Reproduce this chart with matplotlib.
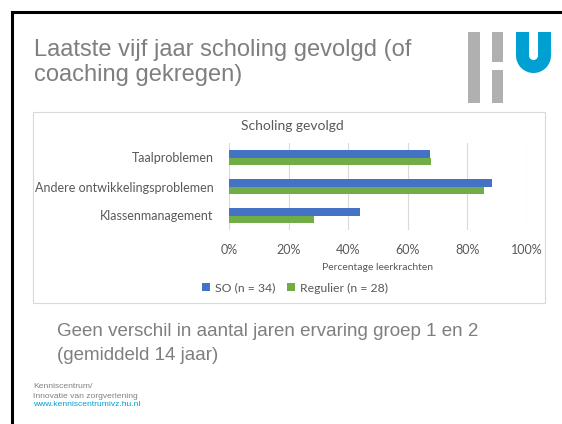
import numpy as np
import matplotlib.pyplot as plt
from matplotlib.patches import Rectangle, Wedge

categories = ['Taalproblemen', 'Andere ontwikkelingsproblemen', 'Klassenmanagement']
so_values = [67.6, 88.2, 44.1]
regulier_values = [67.9, 85.7, 28.6]
series_labels = ['SO (n = 34)', 'Regulier (n = 28)']
x_ticks = [0, 20, 40, 60, 80, 100]

W, H = 562, 424
blue = '#4472C4'
green = '#70AD47'
chart_text = '#595959'
slide_text = '#7f7f7f'
hu_blue = '#00A0D2'
hu_grey = '#B0B0B0'
chart_font = ['Lato', 'DejaVu Sans']
slide_font = ['Liberation Sans', 'DejaVu Sans']


def fx(px):
    return px / W


def fy(py):
    return 1 - py / H


fig = plt.figure(figsize=(W / 100, H / 100), dpi=100)

# background axes in pixel coordinates for slide decorations
bg = fig.add_axes([0, 0, 1, 1], zorder=-1)
bg.set_xlim(0, W)
bg.set_ylim(H, 0)
bg.axis('off')

# slide border (top and left)
bg.plot([11.5, 11.5], [H, 11.5], color='black', lw=2.2, solid_capstyle='projecting')
bg.plot([11.5, W], [11.5, 11.5], color='black', lw=2.2, solid_capstyle='projecting')

# HU logo
bg.add_patch(Rectangle((468, 32), 12, 71, color=hu_grey, lw=0))
bg.add_patch(Rectangle((492, 32), 11, 30, color=hu_grey, lw=0))
bg.add_patch(Rectangle((492, 70), 11, 33, color=hu_grey, lw=0))
bg.add_patch(Rectangle((516, 32), 13, 24, color=hu_blue, lw=0))
bg.add_patch(Rectangle((538, 32), 13, 24, color=hu_blue, lw=0))
bg.add_patch(Wedge((533.5, 55.5), 17.5, 0, 180, width=13, color=hu_blue, lw=0))

# chart frame
bg.add_patch(Rectangle((33, 112), 512, 191, fill=False, edgecolor='#D9D9D9', lw=0.8))

# slide title
fig.text(fx(34), fy(50), 'Laatste vijf jaar scholing gevolgd (of', fontsize=17,
         color=slide_text, family=slide_font, va='center')
fig.text(fx(34), fy(75), 'coaching gekregen)', fontsize=17,
         color=slide_text, family=slide_font, va='center')

ax = fig.add_axes([fx(229), fy(230), fx(298), 87 / H])
y = np.arange(len(categories))
h = 0.25
ax.barh(y - h / 2, so_values, height=h, color=blue, label=series_labels[0])
ax.barh(y + h / 2, regulier_values, height=h, color=green, label=series_labels[1])
ax.set_xlim(0, 100)
ax.set_ylim(2.5, -0.5)
ax.set_xticks(x_ticks)
ax.set_xticklabels([f'{t}%' for t in x_ticks], family=chart_font, fontsize=9,
                   color=chart_text)
ax.set_yticks(y)
ax.set_yticklabels(categories, family=chart_font, fontsize=9, color=chart_text)
ax.tick_params(length=0)
ax.tick_params(axis='x', pad=10)
ax.tick_params(axis='y', pad=11)
ax.grid(axis='x', color='#D9D9D9', lw=0.8)
ax.set_axisbelow(True)
for s in ax.spines.values():
    s.set_visible(False)
ax.set_xlabel('Percentage leerkrachten', family=chart_font, fontsize=7.5,
              color=chart_text, labelpad=5)

fig.text(fx(292), fy(126), 'Scholing gevolgd', family=chart_font, fontsize=10,
         color=chart_text, ha='center', va='center')

leg = fig.legend(loc='center', bbox_to_anchor=(fx(295), fy(288)), ncol=2,
                 frameon=False, handlelength=0.6, handleheight=0.6,
                 handletextpad=0.4, columnspacing=1.0,
                 prop={'family': chart_font, 'size': 8.8})
for t in leg.get_texts():
    t.set_color(chart_text)

# body text
fig.text(fx(57), fy(332), 'Geen verschil in aantal jaren ervaring groep 1 en 2',
         fontsize=13.5, color=slide_text, family=slide_font, va='center')
fig.text(fx(57), fy(355), '(gemiddeld 14 jaar)',
         fontsize=13.5, color=slide_text, family=slide_font, va='center')

# footer
fig.text(fx(33), fy(386), 'Kenniscentrum/', fontsize=6.1, color='#808080',
         family=slide_font, va='center')
fig.text(fx(33), fy(396), 'Innovatie van zorgverlening', fontsize=6.1, color='#808080',
         family=slide_font, va='center')
fig.text(fx(33), fy(405), 'www.kenniscentrumivz.hu.nl', fontsize=6.1, color=hu_blue,
         family=slide_font, va='center')

fig.savefig('out.png', dpi=100)
